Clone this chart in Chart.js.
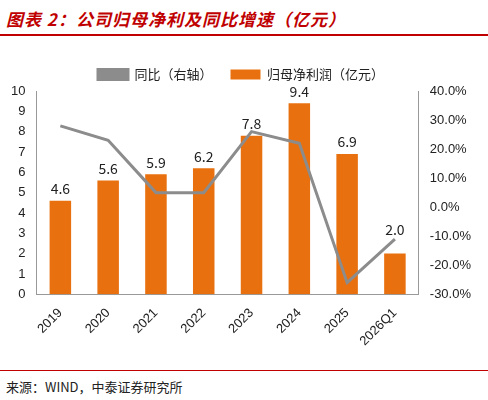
<!DOCTYPE html>
<html><head><meta charset="utf-8">
<script src="https://cdn.jsdelivr.net/npm/chart.js@4"></script>
<style>
body{margin:0;width:488px;height:400px;background:#fff;font-family:"Noto Sans CJK SC",sans-serif;position:relative}
#title{position:absolute;left:6px;top:6px;color:#c00000;font-size:17px;font-weight:bold;font-style:italic;letter-spacing:1px}
#tline{position:absolute;left:0;top:34px;width:488px;height:2px;background:#c00000}
#wrap{position:absolute;left:0;top:50px;width:488px;height:302px}
#sline{position:absolute;left:0;top:370px;width:488px;height:1px;background:#c00000}
#src{position:absolute;left:6px;top:377px;font-size:13px;color:#222}
</style></head><body>
<div id="title">图表 2：公司归母净利及同比增速（亿元）</div>
<div id="tline"></div>
<div id="wrap"><canvas id="c"></canvas></div>
<div id="sline"></div>
<div id="src">来源：WIND，中泰证券研究所</div>
<script>
const years = ["2019","2020","2021","2022","2023","2024","2025","2026Q1"];
const profit = [4.6,5.6,5.9,6.2,7.8,9.4,6.9,2.0];
const growth = [28,23,5,5,26,22,-26,-11];

const labelPlugin = {
  id:'labels',
  afterDatasetsDraw(chart){
    const ctx = chart.ctx, meta = chart.getDatasetMeta(0);
    ctx.save();
    ctx.font = '14px "Noto Sans CJK SC", sans-serif';
    ctx.fillStyle = '#222'; ctx.textAlign = 'center';
    meta.data.forEach((b,i)=>{
      const y = i===7 ? chart.scales.y.getPixelForValue(3.2) : b.y - 12;
      ctx.fillText(profit[i].toFixed(1), b.x, y);
    });
    ctx.restore();
  }
};

new Chart(document.getElementById('c'), {
  type:'bar',
  data:{
    labels: years,
    datasets:[
      {label:'归母净利润（亿元）', data: profit, backgroundColor:'#E8700F', yAxisID:'y', order:2, barPercentage:0.45, categoryPercentage:1},
      {label:'同比（右轴）', type:'line', data: growth, borderColor:'#8c8c8c', backgroundColor:'#8c8c8c', borderWidth:3, pointRadius:0, pointStyle:'line', yAxisID:'y1', order:1, tension:0}
    ]
  },
  options:{
    responsive:true, maintainAspectRatio:false, animation:false,
    layout:{padding:{left:8,right:14,top:0}},
    plugins:{
      legend:{sort:(a,b)=>a.datasetIndex-b.datasetIndex,
        labels:{boxWidth:30,boxHeight:10,font:{size:13,family:'"Noto Sans CJK SC"'},color:'#222',padding:18,
          generateLabels(chart){
            const l = Chart.defaults.plugins.legend.labels.generateLabels(chart);
            l.forEach(it=>{ if(it.datasetIndex===1){ it.pointStyle='line'; it.lineWidth=3; it.strokeStyle='#8c8c8c'; } });
            return l;
          }}},
      tooltip:{enabled:false}
    },
    scales:{
      x:{grid:{display:false},border:{color:'#999'},ticks:{maxRotation:45,minRotation:45,color:'#222',font:{size:13}}},
      y:{min:0,max:10,ticks:{stepSize:1,color:'#222',font:{size:13}},grid:{display:false},border:{color:'#999'}},
      y1:{position:'right',min:-30,max:40,ticks:{stepSize:10,color:'#222',font:{size:13},callback:v=>v.toFixed(1)+'%'},grid:{display:false},border:{color:'#999'}}
    }
  },
  plugins:[labelPlugin]
});
</script>
</body></html>
